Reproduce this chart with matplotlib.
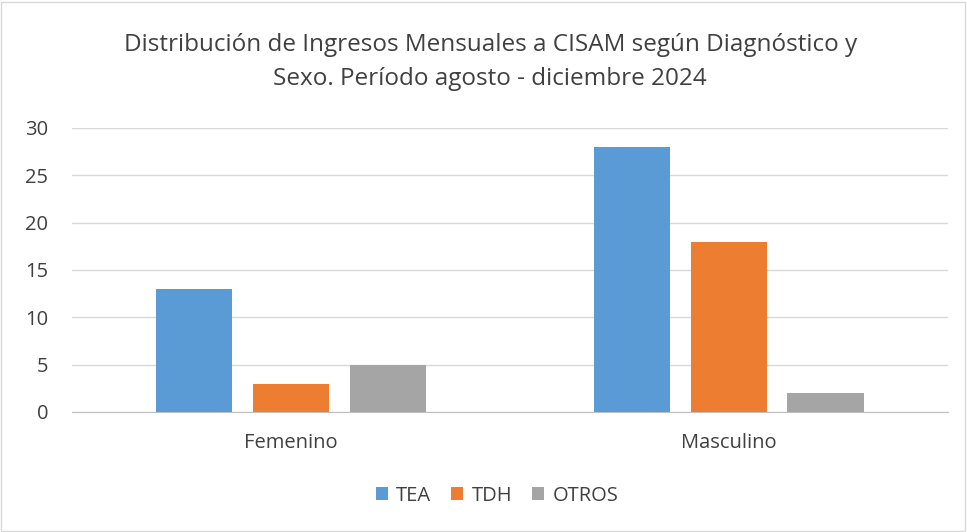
import numpy as np
import matplotlib.pyplot as plt
from matplotlib.patches import Rectangle

categorias = ["Femenino", "Masculino"]
series = ["TEA", "TDH", "OTROS"]
tea = [13, 28]
tdh = [3, 18]
otros = [5, 2]
colores = ["#5B9BD5", "#ED7D31", "#A5A5A5"]

plt.rcParams['font.family'] = ['Open Sans', 'DejaVu Sans']

fig = plt.figure(figsize=(9.67, 5.32), dpi=100)
ax = fig.add_axes([0.0745, 0.2256, 0.9055, 0.5338])

x = np.arange(len(categorias))
w = 0.174
paso = 0.221
for i, (vals, nombre) in enumerate(zip([tea, tdh, otros], series)):
    ax.bar(x + (i - 1) * paso, vals, width=w, color=colores[i], label=nombre, zorder=3)

ax.set_xlim(-0.5, 1.5)
ax.set_ylim(0, 30)
ax.set_yticks(range(0, 31, 5))
ax.set_xticks(x)
ax.set_xticklabels(categorias)
ax.grid(axis='y', color='#D9D9D9', linewidth=1, zorder=0)
for s in ['top', 'right', 'left']:
    ax.spines[s].set_visible(False)
ax.spines['bottom'].set_color('#BFBFBF')
ax.tick_params(axis='both', length=0, labelsize=14.5, colors='#404040')
ax.tick_params(axis='x', pad=15)
ax.tick_params(axis='y', pad=17)

fig.text(0.507, 0.883, "Distribución de Ingresos Mensuales a CISAM según Diagnóstico y\nSexo. Período agosto - diciembre 2024",
         ha='center', va='center', fontsize=17.5, color='#404040', linespacing=1.54)

leg = fig.legend(loc='center', bbox_to_anchor=(0.514, 0.068), ncol=3, frameon=False,
                 fontsize=14.5, handlelength=0.6, handleheight=0.6, columnspacing=1.0, handletextpad=0.4)
for t in leg.get_texts():
    t.set_color('#404040')

fig.patches.append(Rectangle((0.001, 0.002), 0.997, 0.995, transform=fig.transFigure,
                             fill=False, edgecolor='#D9D9D9', linewidth=1))

fig.savefig("out.png", dpi=100)
